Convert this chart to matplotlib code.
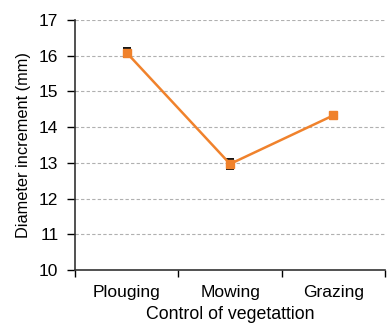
import matplotlib
matplotlib.use("Agg")
import matplotlib.pyplot as plt
from matplotlib.ticker import FixedLocator

categories = ["Plouging", "Mowing", "Grazing"]
values = [16.08, 12.97, 14.33]
errors = [0.13, 0.13, 0.05]
yticks = [10, 11, 12, 13, 14, 15, 16, 17]

plt.rcParams['font.family'] = ['Liberation Sans', 'DejaVu Sans']

fig = plt.figure(figsize=(3.87, 3.27), dpi=100)
ax = fig.add_axes([0.194, 0.174, 0.801, 0.765])

x = list(range(len(categories)))
ax.errorbar(x, values, yerr=errors, fmt='none', ecolor='#111111', elinewidth=1,
            capsize=3, capthick=1.4, zorder=2)
ax.plot(x, values, color='#f0822c', lw=1.8, marker='s', ms=6,
        markerfacecolor='#f0822c', markeredgecolor='#f0822c', zorder=3)

ax.set_xlim(-0.5, 2.5)
ax.set_ylim(10, 17)
ax.set_yticks(yticks)
ax.set_xticks(x)
ax.set_xticklabels(categories, fontsize=12.5)
ax.tick_params(axis='y', labelsize=12.5, direction='out', length=6, width=1, pad=6)
ax.tick_params(axis='x', which='major', length=0, pad=11)
ax.xaxis.set_minor_locator(FixedLocator([-0.5, 0.5, 1.5, 2.5]))
ax.tick_params(axis='x', which='minor', direction='out', length=5, width=1)

for v in yticks[1:]:
    ax.axhline(v, color='#b0b0b0', lw=0.8, ls=(0, (3, 2)), zorder=1)

for s in ['top', 'right']:
    ax.spines[s].set_visible(False)
for s in ['left', 'bottom']:
    ax.spines[s].set_linewidth(1.2)
    ax.spines[s].set_color('#333333')

ax.set_ylabel("Diameter increment (mm)", fontsize=11.8, labelpad=6)
ax.set_xlabel("Control of vegetattion", fontsize=12.8, labelpad=4)

fig.savefig("out.png", dpi=100)
